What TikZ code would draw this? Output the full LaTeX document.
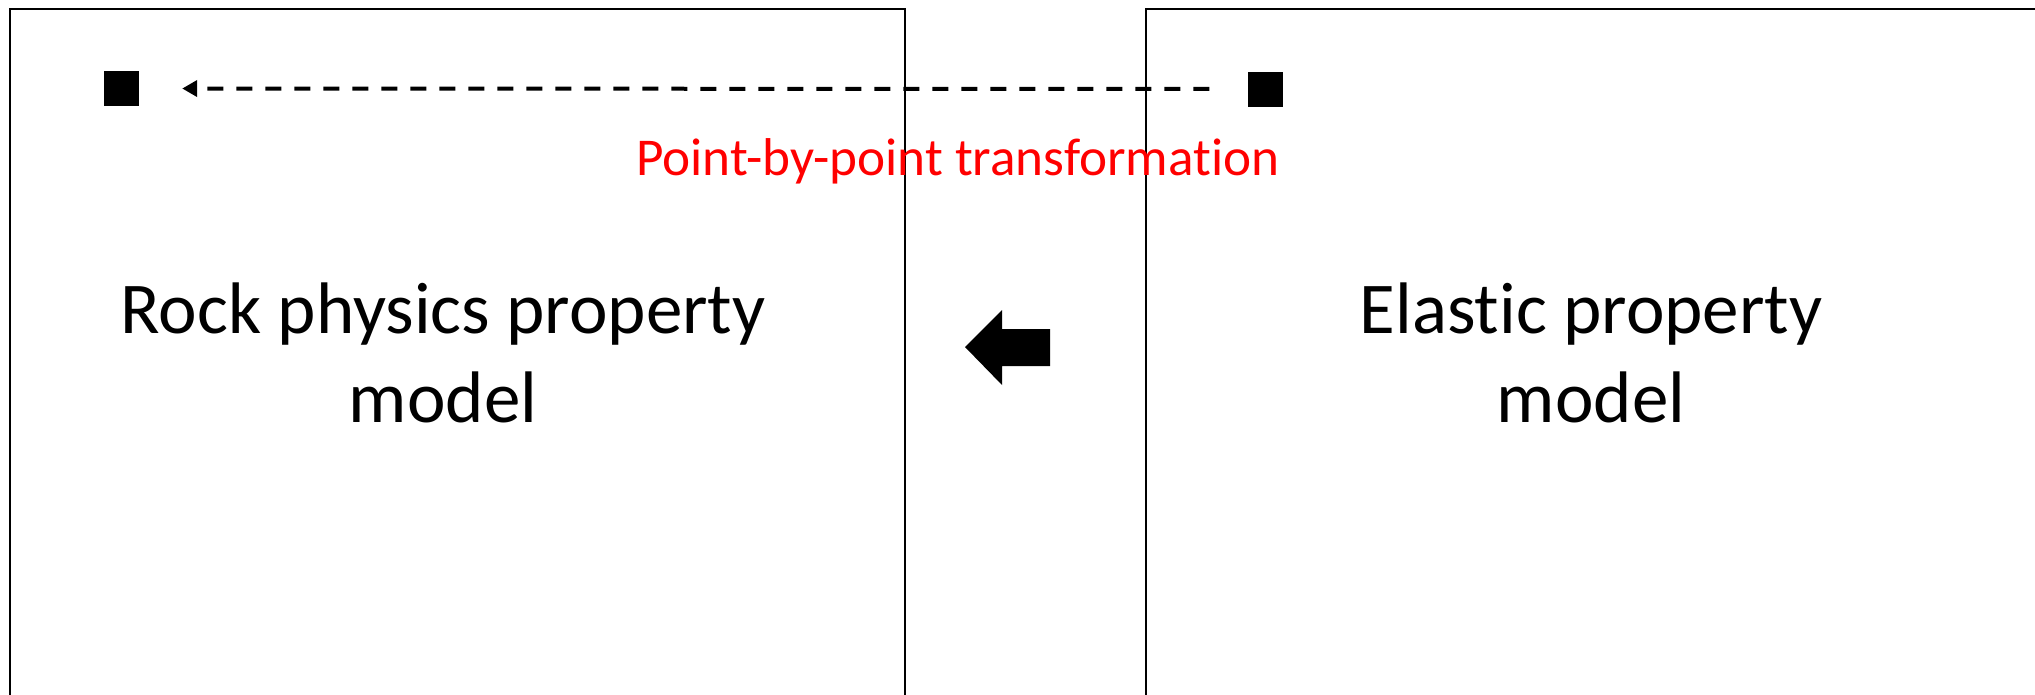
\documentclass[tikz,border=0pt]{standalone}
\usepackage{fontspec}
\setmainfont{Carlito}[Ligatures=NoCommon]
\usetikzlibrary{arrows.meta}
\tikzset{
  panel/.style={draw=black, line width=2pt, fill=none, inner sep=0pt, minimum width=895pt, minimum height=891pt},
  marker/.style={fill=black, inner sep=0pt, minimum size=35pt},
  bigtext/.style={font=\fontsize{73}{89}\selectfont, align=center, inner sep=0pt, anchor=base},
  redtext/.style={font=\fontsize{53.2}{64}\selectfont, text=red, inner sep=0pt, anchor=base west},
  dashlink/.style={line width=4pt, dash pattern=on 16pt off 13pt, -{Triangle[length=15pt,width=16pt]}}
}
\begin{document}
\begin{tikzpicture}[x=1pt,y=-1pt]
\useasboundingbox (0,0) rectangle (2035,694);
\clip (0,0) rectangle (2035,694);
\fill[white] (0,0) rectangle (2035,694);
\node[panel] (leftbox) at (457.5,454.5) {};
\node[panel] (rightbox) at (1593.5,454.5) {};
\node[marker] (L) at (121.5,88.5) {};
\node[marker] (R) at (1265,89) {};
\draw[dashlink, shorten <=38pt, shorten >=43pt] (R.west) -- (L.east);
\node[redtext] (lbl) at (636,175) {Point-by-point transformation};
\node[bigtext] (rock) at (443,422) {Rock physics property\\model};
\node[bigtext] (elastic) at (1591,422) {Elastic property\\model};
\fill[black] (965,347) -- (1002,310) -- (1002,329) -- (1050,329) -- (1050,366) -- (1002,366) -- (1002,385) -- cycle;
\end{tikzpicture}
\end{document}
